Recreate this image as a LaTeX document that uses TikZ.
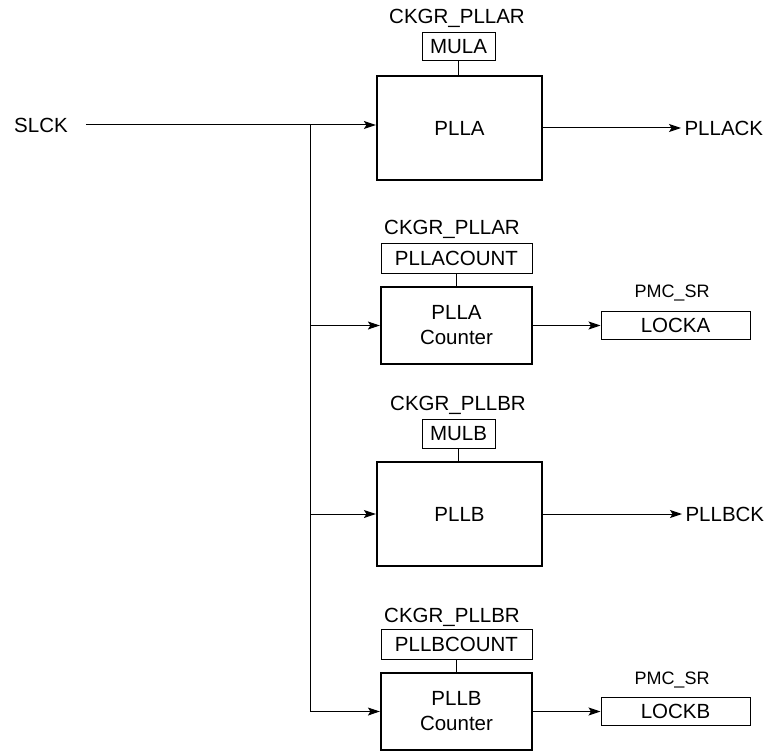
\documentclass[tikz,border=0pt]{standalone}
\usepackage{fontspec}
\setmainfont{Liberation Sans}
\usetikzlibrary{arrows.meta}

\begin{document}
\begin{tikzpicture}[x=1pt,y=-1pt,
  every node/.style={font=\fontsize{20.5}{25}\selectfont},
  blk/.style={draw, line width=2.2pt, inner sep=0pt, align=center},
  reg/.style={draw, line width=1pt, inner sep=0pt},
  sig/.style={line width=1pt, -{Stealth[length=12pt,width=8pt,inset=2.5pt]}},
  tie/.style={line width=1pt},
  small/.style={font=\fontsize{18}{22}\selectfont}]
\useasboundingbox (0,0) rectangle (770,751);
% Clock input and trunk
\node[inner xsep=18pt] (slck) at (41,125) {SLCK};
\coordinate (jn) at (310,125);
% PLLA block with MULA register
\node[blk, minimum width=165pt, minimum height=104pt] (plla) at (459.5,128) {PLLA};
\node[reg, minimum width=73pt, minimum height=28pt] (mula) at (458.5,47) {MULA};
\node (plla reg) at (457,18) {CKGR\_PLLAR};
\node[anchor=west] (pllack) at (681,128) {PLLACK};
% PLLA counter with PLLACOUNT register
\node[blk, minimum width=151pt, minimum height=77pt] (plla cnt) at (456.5,325.5) {PLLA\\Counter};
\node[reg, minimum width=151pt, minimum height=30pt] (plla count) at (456.5,258) {PLLACOUNT};
\node (plla cnt reg) at (452,229) {CKGR\_PLLAR};
\node[reg, minimum width=149pt, minimum height=28pt] (locka) at (675.5,325.5) {LOCKA};
\node[small] (sr a) at (672,293) {PMC\_SR};
% PLLB block with MULB register
\node[blk, minimum width=165pt, minimum height=104pt] (pllb) at (459.5,514) {PLLB};
\node[reg, minimum width=73pt, minimum height=29pt] (mulb) at (458.5,433.5) {MULB};
\node (pllb reg) at (458,405) {CKGR\_PLLBR};
\node[anchor=west] (pllbck) at (682,514) {PLLBCK};
% PLLB counter with PLLBCOUNT register
\node[blk, minimum width=151pt, minimum height=77pt] (pllb cnt) at (456.5,711.5) {PLLB\\Counter};
\node[reg, minimum width=151pt, minimum height=30pt] (pllb count) at (456.5,644) {PLLBCOUNT};
\node (pllb cnt reg) at (452,617) {CKGR\_PLLBR};
\node[reg, minimum width=149pt, minimum height=28pt] (lockb) at (675.5,711.5) {LOCKB};
\node[small] (sr b) at (672,680) {PMC\_SR};
% Register ties
\draw[tie] (mula.south) -- (mula.south |- plla.north);
\draw[tie] (plla count) -- (plla cnt);
\draw[tie] (mulb.south) -- (mulb.south |- pllb.north);
\draw[tie] (pllb count) -- (pllb cnt);
% Clock distribution
\draw[sig] (slck.east) -- (slck.east -| plla.west);
\draw[sig] (jn) |- (pllb cnt.west);
\draw[sig] (jn |- plla cnt.west) -- (plla cnt.west);
\draw[sig] (jn |- pllb.west) -- (pllb.west);
% Outputs
\draw[sig] (plla.east) -- (pllack.west);
\draw[sig] (plla cnt.east) -- (locka.west);
\draw[sig] (pllb.east) -- (pllbck.west);
\draw[sig] (pllb cnt.east) -- (lockb.west);
\end{tikzpicture}
\end{document}
